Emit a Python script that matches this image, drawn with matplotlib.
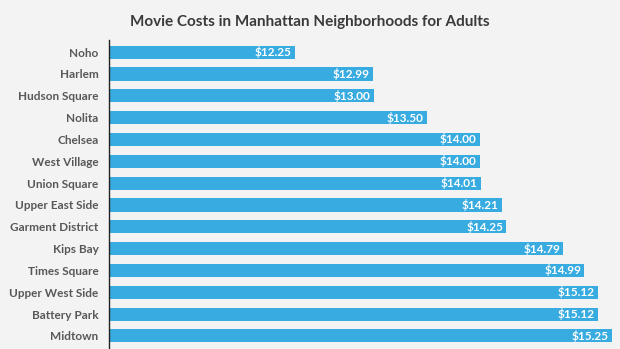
import matplotlib.pyplot as plt

neighborhoods = ["Noho", "Harlem", "Hudson Square", "Nolita", "Chelsea", "West Village",
                 "Union Square", "Upper East Side", "Garment District", "Kips Bay",
                 "Times Square", "Upper West Side", "Battery Park", "Midtown"]
prices = [12.25, 12.99, 13.00, 13.50, 14.00, 14.00, 14.01, 14.21, 14.25, 14.79,
          14.99, 15.12, 15.12, 15.25]

plt.rcParams['font.family'] = ['Lato', 'DejaVu Sans']
bg = '#f3f3f3'

fig = plt.figure(figsize=(6.2, 3.49), dpi=100, facecolor=bg)
ax = fig.add_axes([0.1766, 0.003, 0.819, 0.882], facecolor=bg)

x0 = 10.5
y = range(len(neighborhoods))
ax.barh(y, [p - x0 for p in prices], left=x0, height=0.6, color='#38abe1')
for yi, p in zip(y, prices):
    ax.text(p - 0.03, yi, f"${p:.2f}", ha='right', va='center', color='white',
            fontsize=8.5, fontweight='bold')

ax.set_xlim(x0, 15.3)
ax.set_ylim(len(neighborhoods) - 0.45, -0.55)
ax.set_yticks(list(y))
ax.set_yticklabels(neighborhoods, fontsize=8.5, fontweight='bold', color='#585858')
ax.tick_params(axis='y', length=0, pad=8)
ax.set_xticks([])
for side in ['top', 'right', 'bottom']:
    ax.spines[side].set_visible(False)
ax.spines['left'].set_color('#222222')
ax.spines['left'].set_linewidth(1)

fig.text(0.5, 0.937, "Movie Costs in Manhattan Neighborhoods for Adults", ha='center',
         va='center', fontsize=11, fontweight='bold', color='#3a3a3a')

fig.savefig('out.png', dpi=100, facecolor=bg)
